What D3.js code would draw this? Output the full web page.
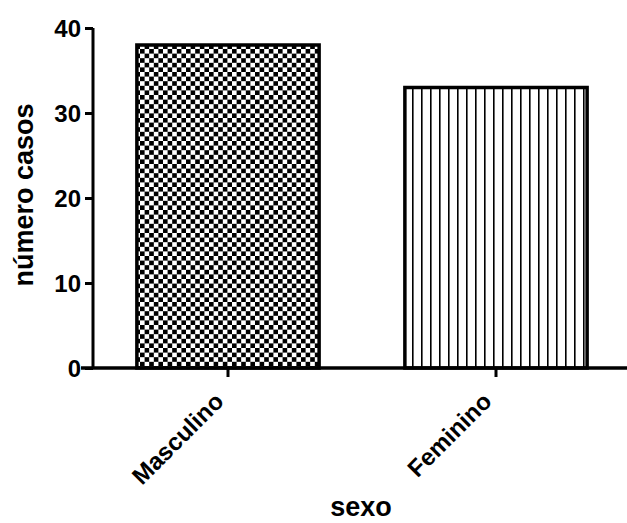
<!DOCTYPE html>
<html>
<head>
<meta charset="utf-8">
<script src="https://cdn.jsdelivr.net/npm/d3@7"></script>
<style>
  body { margin: 0; background: #fff; }
  text { font-family: "Liberation Sans", Arial, sans-serif; font-weight: bold; fill: #000; }
</style>
</head>
<body>
<div id="chart"></div>
<script>
var categories = ["Masculino", "Feminino"];
var casos = [38, 33];
var yTicks = [0, 10, 20, 30, 40];
var patterns = ["checker", "stripes"];

var width = 627, height = 523;
var x0 = 93, yTop = 28, yBottom = 368;

var svg = d3.select("#chart").append("svg")
    .attr("width", width)
    .attr("height", height);

var defs = svg.append("defs");

// checkerboard fill
var checker = defs.append("pattern")
    .attr("id", "checker")
    .attr("patternUnits", "userSpaceOnUse")
    .attr("width", 9.2).attr("height", 9.2)
    .attr("x", 2).attr("y", 3);
checker.append("rect").attr("width", 9.2).attr("height", 9.2).attr("fill", "#fff");
checker.append("rect").attr("width", 4.6).attr("height", 4.6).attr("fill", "#000");
checker.append("rect").attr("x", 4.6).attr("y", 4.6).attr("width", 4.6).attr("height", 4.6).attr("fill", "#000");

// vertical stripes fill
var stripes = defs.append("pattern")
    .attr("id", "stripes")
    .attr("patternUnits", "userSpaceOnUse")
    .attr("width", 9).attr("height", 9)
    .attr("x", 1);
stripes.append("rect").attr("width", 9).attr("height", 9).attr("fill", "#fff");
stripes.append("rect").attr("x", 6).attr("width", 1.6).attr("height", 9).attr("fill", "#000");

var x = d3.scaleBand()
    .domain(categories)
    .range([x0 + 1, 630])
    .paddingInner(0.32)
    .paddingOuter(0.16);

var y = d3.scaleLinear()
    .domain([0, 40])
    .range([yBottom, yTop]);

// bars
svg.selectAll(".bar")
    .data(categories)
    .enter()
    .append("rect")
    .attr("class", "bar")
    .attr("x", function(d) { return x(d); })
    .attr("y", function(d, i) { return y(casos[i]); })
    .attr("width", x.bandwidth())
    .attr("height", function(d, i) { return y(0) - y(casos[i]); })
    .attr("fill", function(d, i) { return "url(#" + patterns[i] + ")"; })
    .attr("stroke", "#000")
    .attr("stroke-width", 3.5);

// y axis
var yAxis = svg.append("g")
    .attr("transform", "translate(" + x0 + ",0)")
    .call(d3.axisLeft(y).tickValues(yTicks).tickSize(8).tickPadding(4).tickFormat(d3.format("d")));
yAxis.select(".domain").attr("d", "M0," + (yTop) + "V" + (yBottom)).attr("stroke-width", 3);
yAxis.selectAll(".tick line").attr("stroke-width", 3);
yAxis.selectAll(".tick text").style("font-size", "24px").attr("dy", "0.36em");

// x axis
var xAxis = svg.append("g")
    .attr("transform", "translate(0," + yBottom + ")")
    .call(d3.axisBottom(x).tickSize(9).tickPadding(2));
xAxis.select(".domain").attr("d", "M" + (x0 - 12) + ",0H" + width).attr("stroke-width", 3.5);
xAxis.selectAll(".tick line").attr("stroke-width", 3);
xAxis.selectAll(".tick text")
    .style("font-size", "24px")
    .attr("text-anchor", "end")
    .attr("x", 0)
    .attr("y", 0)
    .attr("dy", 0)
    .attr("transform", "translate(-3,35) rotate(-45)");

// axis titles
svg.append("text")
    .attr("transform", "translate(33,195) rotate(-90)")
    .attr("text-anchor", "middle")
    .style("font-size", "27px")
    .text("número casos");

svg.append("text")
    .attr("x", 361)
    .attr("y", 516)
    .attr("text-anchor", "middle")
    .style("font-size", "27px")
    .text("sexo");
</script>
</body>
</html>
